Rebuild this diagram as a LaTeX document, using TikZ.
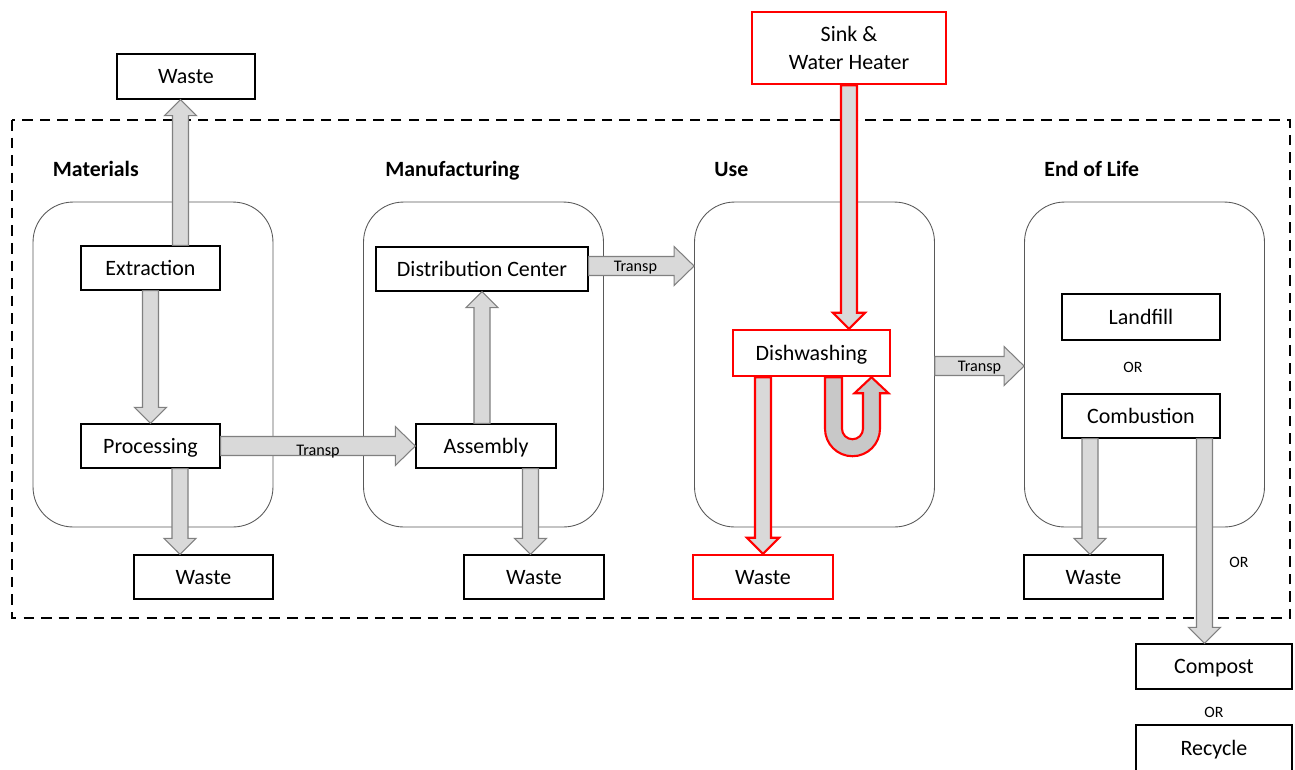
\documentclass[tikz,border=0pt]{standalone}
\usepackage{fontspec}
\setmainfont{Carlito}
\usetikzlibrary{calc}

\definecolor{arrfill}{HTML}{D9D9D9}
\definecolor{ufill}{HTML}{C8C8C8}
\definecolor{arredge}{HTML}{808080}
\definecolor{framegray}{HTML}{595959}

\tikzset{
	ba shaft/.store in=\bashaft, ba shaft=0.16cm,
	ba head/.store in=\bahead, ba head=0.32cm,
	ba len/.store in=\balen, ba len=0.32cm,
	ba wide/.style={ba shaft=0.19cm, ba head=0.39cm, ba len=0.4cm},
	blockarr/.style={draw=arredge, fill=arrfill, line width=0.6pt},
	redarr/.style={draw=red, line width=1.2pt},
	box/.style={draw, line width=0.8pt, fill=white, minimum width=2.78cm, minimum height=0.88cm, font=\fontsize{12.5}{15.5}\selectfont, align=center, inner sep=2pt, text height=1.02em, text depth=0.2em},
	redbox/.style={box, draw=red, line width=1.4pt},
	stage/.style={draw=framegray, line width=0.5pt, rounded corners=0.8cm, minimum width=4.8cm, minimum height=6.5cm},
	stagetitle/.style={anchor=base west, font=\fontsize{12.4}{14}\selectfont\bfseries, inner sep=0pt},
	translabel/.style={font=\fontsize{9.2}{11}\selectfont, inner sep=0pt},
	orlabel/.style={font=\fontsize{9}{11}\selectfont, inner sep=0pt}
}

\newcommand{\blockarrow}[3][]{%
	\begin{scope}[blockarr,#1]
		\coordinate (ba-s) at (#2);
		\coordinate (ba-e) at (#3);
		\coordinate (ba-h) at ($(ba-e)!\balen!(ba-s)$);
		\filldraw ($(ba-s)!\bashaft!90:(ba-e)$) -- ($(ba-h)!\bashaft!90:(ba-e)$)
			-- ($(ba-h)!\bahead!90:(ba-e)$) -- (ba-e)
			-- ($(ba-h)!\bahead!-90:(ba-e)$) -- ($(ba-h)!\bashaft!-90:(ba-e)$)
			-- ($(ba-s)!\bashaft!-90:(ba-e)$) -- cycle;
	\end{scope}}

\begin{document}
\begin{tikzpicture}[x=0.02cm, y=-0.02cm]
	\useasboundingbox (0,0) rectangle (1295,769);

	\draw[line width=1.4pt, dash pattern=on 6pt off 4pt] (12,120) rectangle (1290,618);

	\node[stage] (matbox) at (153,364.5) {};
	\node[stage] (mfgbox) at (483.5,364.5) {};
	\node[stage] (usebox) at (814.5,364.5) {};
	\node[stage] (eolbox) at (1144.5,364.5) {};

	\node[stagetitle] (mattitle) at ([shift={(20,-25)}]matbox.north west) {Materials};
	\node[stagetitle] (mfgtitle) at ([shift={(22,-25)}]mfgbox.north west) {Manufacturing};
	\node[stagetitle] (usetitle) at ([shift={(20,-25)}]usebox.north west) {Use};
	\node[stagetitle] (eoltitle) at ([shift={(20,-25)}]eolbox.north west) {End of Life};

	\node[box, minimum width=2.76cm, minimum height=0.9cm] (wastetop) at (186,76.5) {Waste};
	\node[box] (extraction) at (150.5,268) {Extraction};
	\node[box] (processing) at (150.5,446) {Processing};
	\node[box] (wastemat) at (203.5,577) {Waste};

	\node[box, minimum width=4.24cm] (distcenter) at (482,269) {Distribution Center};
	\node[box, minimum width=2.8cm] (assembly) at (486,446) {Assembly};
	\node[box, minimum width=2.8cm] (wastemfg) at (534,577) {Waste};

	\node[redbox, minimum width=3.88cm, minimum height=1.44cm, text height=, text depth=] (sink) at (849,48) {Sink \&\\Water Heater};
	\node[redbox, minimum width=3.14cm, minimum height=0.92cm] (dishwash) at (811.5,353) {Dishwashing};
	\node[redbox, minimum width=2.8cm] (wasteuse) at (763,577) {Waste};

	\node[box, minimum width=3.16cm, minimum height=0.92cm] (landfill) at (1141,317) {Landfill};
	\node[box, minimum width=3.16cm] (combustion) at (1141,416) {Combustion};
	\node[box] (wasteeol) at (1093.5,577) {Waste};
	\node[box, minimum width=3.12cm, minimum height=0.9cm] (compost) at (1214,666.5) {Compost};
	\node[box, minimum width=3.12cm, minimum height=0.92cm] (recycle) at (1214,748) {Recycle};

	\node[orlabel] (or1) at ([shift={(-8,0)}]$(landfill.south)!0.5!(combustion.north)$) {OR};
	\node[orlabel] (or2) at (1239,562) {OR};
	\node[orlabel] (or3) at (1214,712) {OR};

	\coordinate (ex-up) at ([shift={(30,0)}]extraction.north);
	\blockarrow{ex-up}{ex-up |- wastetop.south}
	\blockarrow{extraction.south}{processing.north}
	\coordinate (pr-down) at ([shift={(29.5,0)}]processing.south);
	\blockarrow{pr-down}{pr-down |- wastemat.north}
	\blockarrow[ba wide]{processing.east}{assembly.west}
	\node[translabel] (tr1) at ([shift={(0,6)}]$(processing.east)!0.5!(assembly.west)$) {Transp};

	\blockarrow{assembly.north -| distcenter.south}{distcenter.south}
	\coordinate (as-down) at ([shift={(44.5,0)}]assembly.south);
	\blockarrow{as-down}{as-down |- wastemfg.north}
	\coordinate (dc-out) at ([shift={(0,-3)}]distcenter.east);
	\blockarrow[ba wide]{dc-out}{dc-out -| usebox.west}
	\node[translabel] (tr2) at ([shift={(-6,2)}]$(dc-out)!0.5!(dc-out -| usebox.west)$) {Transp};

	\blockarrow[redarr]{sink.south}{sink.south |- dishwash.north}
	\blockarrow[redarr]{dishwash.south -| wasteuse.north}{wasteuse.north}
	\coordinate (uturn) at ([shift={(13.5,0)}]dishwash.south);
	\filldraw[redarr, fill=ufill] (uturn) -- ++(0,51.5) arc[start angle=180, end angle=360, radius=0.55cm]
		-- ++(0,-35.5) -- ++(8.5,0) -- ++(-17,-16) -- ++(-17,16) -- ++(8.5,0) -- ++(0,35.5)
		arc[start angle=0, end angle=-180, radius=0.21cm] -- ++(0,-51.5) -- cycle;
	\coordinate (us-out) at ($(dishwash.center -| usebox.east)+(0,13)$);
	\blockarrow[ba wide]{us-out}{us-out -| eolbox.west}
	\node[translabel] (tr3) at ([shift={(0,2)}]$(us-out)!0.5!(us-out -| eolbox.west)$) {Transp};

	\coordinate (co-left) at ([shift={(-51,0)}]combustion.south);
	\blockarrow{co-left}{co-left |- wasteeol.north}
	\coordinate (co-right) at ([shift={(63.5,0)}]combustion.south);
	\blockarrow{co-right}{co-right |- compost.north}
\end{tikzpicture}
\end{document}
